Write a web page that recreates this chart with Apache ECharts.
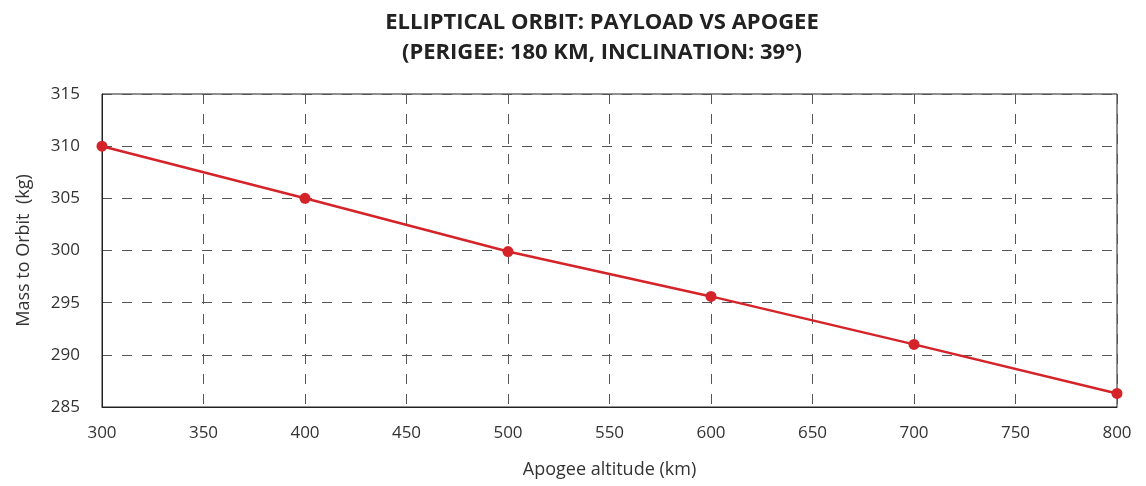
<!DOCTYPE html>
<html><head><meta charset="utf-8">
<script src="https://cdn.jsdelivr.net/npm/echarts@6/dist/echarts.min.js"></script>
<style>html,body{margin:0;padding:0;background:#fff}#c{width:1146px;height:486px}</style>
</head><body><div id="c"></div>
<script>
const titleLines = ['ELLIPTICAL ORBIT: PAYLOAD VS APOGEE', '(PERIGEE: 180 KM, INCLINATION: 39°)'];
const xName = 'Apogee altitude (km)';
const yName = 'Mass to Orbit  (kg)';
const apogee = [300, 400, 500, 600, 700, 800];
const mass = [310.0, 305.0, 299.9, 295.6, 291.0, 286.3];
const FONT = 'Open Sans';
const chart = echarts.init(document.getElementById('c'), null, {renderer: 'canvas'});
chart.setOption({
  backgroundColor: '#fff',
  animation: false,
  title: {
    text: titleLines.join('\n'), left: 597, top: 3, textAlign: 'center',
    textStyle: {fontFamily: FONT, fontWeight: 'bold', fontSize: 22, color: '#222', lineHeight: 30}
  },
  grid: {left: 102, right: 29, top: 94, bottom: 79, show: true, borderColor: '#222', borderWidth: 1},
  xAxis: {
    type: 'value', min: 300, max: 800, interval: 50,
    name: xName, nameLocation: 'middle', nameGap: 54,
    nameTextStyle: {fontFamily: FONT, fontSize: 18, color: '#333'},
    axisLine: {show: true, lineStyle: {color: '#222'}},
    axisTick: {show: false},
    axisLabel: {fontFamily: FONT, fontSize: 17, color: '#333', margin: 18},
    splitLine: {show: true, lineStyle: {type: [10, 10], color: '#555', width: 1}}
  },
  yAxis: {
    type: 'value', min: 285, max: 315, interval: 5,
    name: yName, nameLocation: 'middle', nameGap: 69,
    nameTextStyle: {fontFamily: FONT, fontSize: 18, color: '#333'},
    axisLine: {show: true, lineStyle: {color: '#222'}},
    axisTick: {show: false},
    axisLabel: {fontFamily: FONT, fontSize: 17, color: '#333', margin: 22},
    splitLine: {show: true, lineStyle: {type: [10, 10], color: '#555', width: 1}}
  },
  series: [{
    type: 'line',
    data: apogee.map((x, i) => [x, mass[i]]),
    symbol: 'circle', symbolSize: 11,
    lineStyle: {color: '#d42329', width: 2.5},
    itemStyle: {color: '#d42329'},
    clip: false
  }]
});
</script></body></html>
